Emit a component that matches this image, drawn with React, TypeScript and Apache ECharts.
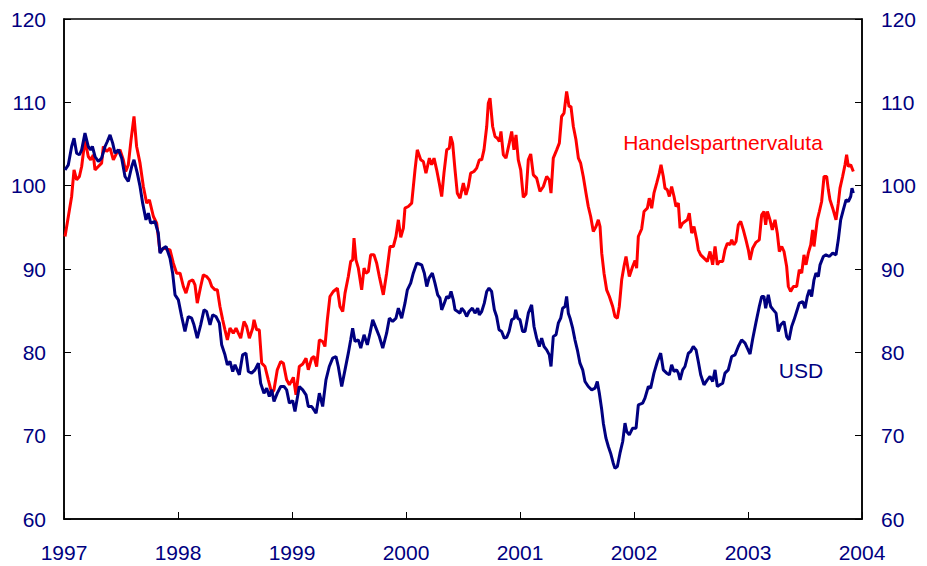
import React, { useEffect, useRef } from "react";
import * as echarts from "echarts";

// Y axis ticks (index, both sides)
const yTicks = [60, 70, 80, 90, 100, 110, 120];
// X axis year ticks
const yearTicks = [1997, 1998, 1999, 2000, 2001, 2002, 2003, 2004];

const seriesNames = ["Handelspartnervaluta", "USD"];

// USD index (decimal year / value)
const usdDates = [
  1997.009, 1997.038, 1997.067, 1997.088, 1997.111, 1997.135, 1997.155, 1997.184, 1997.213, 1997.234,
  1997.249, 1997.272, 1997.301, 1997.330, 1997.360, 1997.380, 1997.404, 1997.427, 1997.447, 1997.477,
  1997.506, 1997.535, 1997.564, 1997.594, 1997.614, 1997.643, 1997.667, 1997.690, 1997.719, 1997.740,
  1997.760, 1997.798, 1997.827, 1997.842, 1997.871, 1997.895, 1997.930, 1997.953, 1997.974, 1998.003,
  1998.032, 1998.061, 1998.090, 1998.120, 1998.140, 1998.169, 1998.199, 1998.228, 1998.251, 1998.281,
  1998.304, 1998.333, 1998.363, 1998.383, 1998.412, 1998.433, 1998.456, 1998.480, 1998.500, 1998.538,
  1998.567, 1998.596, 1998.617, 1998.646, 1998.675, 1998.705, 1998.725, 1998.754, 1998.778, 1998.801,
  1998.822, 1998.842, 1998.871, 1998.901, 1998.930, 1998.953, 1998.977, 1999.006, 1999.026, 1999.064,
  1999.094, 1999.123, 1999.143, 1999.173, 1999.211, 1999.240, 1999.269, 1999.298, 1999.327, 1999.357,
  1999.386, 1999.406, 1999.436, 1999.465, 1999.494, 1999.515, 1999.532, 1999.553, 1999.582, 1999.603,
  1999.632, 1999.661, 1999.684, 1999.708, 1999.737, 1999.766, 1999.796, 1999.830, 1999.854, 1999.883,
  1999.912, 1999.933, 1999.962, 1999.991, 2000.012, 2000.041, 2000.064, 2000.094, 2000.117, 2000.137,
  2000.161, 2000.182, 2000.202, 2000.231, 2000.254, 2000.278, 2000.298, 2000.313, 2000.336, 2000.357,
  2000.377, 2000.395, 2000.415, 2000.430, 2000.453, 2000.474, 2000.488, 2000.512, 2000.532, 2000.553,
  2000.582, 2000.605, 2000.629, 2000.643, 2000.664, 2000.687, 2000.708, 2000.728, 2000.751, 2000.775,
  2000.795, 2000.816, 2000.839, 2000.862, 2000.883, 2000.904, 2000.927, 2000.950, 2000.962, 2000.980,
  2001.000, 2001.023, 2001.044, 2001.073, 2001.102, 2001.123, 2001.146, 2001.169, 2001.190, 2001.211,
  2001.234, 2001.257, 2001.272, 2001.292, 2001.316, 2001.336, 2001.357, 2001.374, 2001.395, 2001.409,
  2001.424, 2001.439, 2001.462, 2001.482, 2001.503, 2001.526, 2001.550, 2001.570, 2001.599, 2001.629,
  2001.658, 2001.678, 2001.696, 2001.717, 2001.731, 2001.754, 2001.775, 2001.795, 2001.818, 2001.833,
  2001.854, 2001.877, 2001.901, 2001.921, 2001.936, 2001.959, 2001.988, 2002.018, 2002.038, 2002.076,
  2002.096, 2002.126, 2002.146, 2002.175, 2002.205, 2002.234, 2002.257, 2002.287, 2002.310, 2002.330,
  2002.351, 2002.374, 2002.389, 2002.404, 2002.427, 2002.447, 2002.477, 2002.497, 2002.520, 2002.544,
  2002.564, 2002.585, 2002.614, 2002.643, 2002.667, 2002.690, 2002.711, 2002.731, 2002.754, 2002.778,
  2002.798, 2002.827, 2002.857, 2002.886, 2002.915, 2002.944, 2002.974, 2002.994, 2003.018, 2003.041,
  2003.070, 2003.099, 2003.120, 2003.140, 2003.155, 2003.178, 2003.199, 2003.222, 2003.246, 2003.266,
  2003.287, 2003.316, 2003.339, 2003.360, 2003.383, 2003.404, 2003.427, 2003.450, 2003.480, 2003.500,
  2003.520, 2003.538, 2003.558, 2003.579, 2003.596, 2003.617, 2003.632, 2003.661, 2003.684, 2003.713,
  2003.743, 2003.772, 2003.792, 2003.813, 2003.836, 2003.860, 2003.880, 2003.901, 2003.912, 2003.924,
];
const usdValues = [
  101.9, 102.5, 104.7, 105.7, 103.9, 103.7, 104.3, 106.3, 104.7, 104.3,
  104.7, 103.5, 102.9, 103.3, 104.7, 105.3, 106.1, 105.1, 103.9, 104.3,
  103.3, 101.1, 100.5, 102.3, 103.1, 101.5, 99.9, 97.9, 95.9, 96.7,
  95.5, 95.7, 94.3, 91.9, 92.5, 92.7, 91.3, 89.5, 86.9, 86.3,
  84.3, 82.5, 84.3, 84.1, 83.3, 81.7, 83.3, 85.1, 84.9, 83.3,
  84.5, 84.3, 83.5, 80.9, 79.7, 78.5, 78.9, 77.7, 78.5, 77.3,
  79.7, 79.9, 77.7, 77.5, 77.9, 78.7, 76.3, 75.1, 75.7, 74.7,
  75.5, 74.1, 75.1, 75.9, 75.9, 75.5, 73.9, 74.2, 72.9, 75.9,
  75.5, 74.9, 73.5, 73.5, 72.7, 75.1, 73.5, 76.7, 78.3, 79.3,
  79.5, 78.3, 75.9, 77.9, 79.9, 81.5, 82.9, 81.3, 81.5, 80.5,
  82.1, 80.9, 82.3, 83.9, 82.9, 81.9, 80.5, 82.3, 84.1, 83.7,
  84.1, 85.3, 84.1, 85.9, 87.5, 88.3, 89.5, 90.7, 90.6, 90.5,
  89.5, 87.9, 88.9, 89.5, 88.3, 86.9, 86.5, 85.1, 85.9, 86.7,
  86.5, 87.3, 86.3, 85.1, 84.9, 84.7, 85.3, 84.9, 84.3, 84.9,
  85.3, 84.7, 85.3, 84.5, 84.9, 85.9, 87.3, 87.7, 87.3, 85.1,
  84.3, 82.7, 82.5, 81.7, 81.8, 82.5, 83.9, 84.1, 85.1, 84.1,
  83.9, 82.5, 82.5, 84.7, 85.7, 83.1, 81.7, 80.7, 81.7, 80.7,
  80.3, 79.7, 78.3, 81.9, 82.1, 83.5, 84.1, 85.3, 85.5, 86.7,
  84.7, 84.1, 82.9, 81.5, 80.3, 78.7, 77.9, 76.5, 75.9, 75.5,
  75.7, 76.5, 75.1, 73.1, 71.5, 69.7, 68.7, 67.9, 66.7, 66.1,
  66.3, 67.9, 69.3, 71.5, 70.5, 70.1, 70.9, 70.9, 73.7, 73.9,
  74.5, 75.9, 75.7, 77.5, 78.9, 79.9, 77.9, 77.5, 77.3, 78.5,
  77.7, 77.9, 77.5, 76.7, 77.9, 78.3, 79.9, 80.1, 80.7, 80.3,
  78.9, 77.3, 76.1, 76.7, 77.1, 76.5, 77.9, 75.9, 76.1, 76.3,
  77.5, 77.9, 79.5, 79.7, 80.7, 81.5, 81.1, 80.5, 79.8, 81.6,
  83.6, 85.5, 86.7, 86.7, 85.3, 86.9, 85.5, 85.1, 84.7, 82.5,
  83.3, 83.7, 81.9, 81.5, 83.1, 83.9, 84.9, 85.9, 86.1, 85.3,
  86.7, 87.5, 86.7, 88.7, 89.5, 89.1, 90.5, 91.5, 91.7, 91.5,
  91.9, 91.7, 93.5, 95.9, 97.1, 98.3, 98.1, 98.7, 99.7, 99.1,
];

// Trade-partner currency index (decimal year / value)
const tradeDates = [
  1997.009, 1997.038, 1997.067, 1997.088, 1997.111, 1997.135, 1997.155, 1997.184, 1997.213, 1997.234,
  1997.257, 1997.272, 1997.301, 1997.330, 1997.345, 1997.374, 1997.404, 1997.433, 1997.462, 1997.491,
  1997.520, 1997.541, 1997.564, 1997.588, 1997.614, 1997.637, 1997.667, 1997.696, 1997.725, 1997.749,
  1997.784, 1997.813, 1997.842, 1997.871, 1997.900, 1997.930, 1997.959, 1997.988, 1998.018, 1998.047,
  1998.070, 1998.099, 1998.129, 1998.149, 1998.169, 1998.199, 1998.222, 1998.251, 1998.275, 1998.296,
  1998.325, 1998.345, 1998.368, 1998.392, 1998.412, 1998.433, 1998.456, 1998.485, 1998.509, 1998.529,
  1998.550, 1998.579, 1998.602, 1998.626, 1998.655, 1998.667, 1998.690, 1998.713, 1998.734, 1998.763,
  1998.792, 1998.822, 1998.842, 1998.871, 1998.901, 1998.924, 1998.953, 1998.977, 1999.012, 1999.035,
  1999.064, 1999.094, 1999.123, 1999.143, 1999.173, 1999.193, 1999.216, 1999.240, 1999.269, 1999.289,
  1999.310, 1999.333, 1999.362, 1999.398, 1999.421, 1999.445, 1999.465, 1999.494, 1999.515, 1999.532,
  1999.544, 1999.561, 1999.582, 1999.611, 1999.632, 1999.649, 1999.670, 1999.690, 1999.719, 1999.743,
  1999.766, 1999.801, 1999.830, 1999.860, 1999.889, 1999.912, 1999.933, 1999.954, 1999.977, 1999.991,
  2000.020, 2000.050, 2000.079, 2000.099, 2000.129, 2000.152, 2000.175, 2000.205, 2000.225, 2000.246,
  2000.269, 2000.292, 2000.313, 2000.333, 2000.357, 2000.380, 2000.392, 2000.409, 2000.430, 2000.450,
  2000.474, 2000.503, 2000.526, 2000.547, 2000.567, 2000.596, 2000.620, 2000.643, 2000.664, 2000.684,
  2000.708, 2000.722, 2000.737, 2000.760, 2000.781, 2000.801, 2000.819, 2000.833, 2000.854, 2000.877,
  2000.906, 2000.927, 2000.947, 2000.965, 2000.985, 2001.006, 2001.029, 2001.053, 2001.073, 2001.094,
  2001.117, 2001.146, 2001.175, 2001.205, 2001.234, 2001.257, 2001.272, 2001.292, 2001.322, 2001.345,
  2001.365, 2001.386, 2001.409, 2001.430, 2001.447, 2001.468, 2001.491, 2001.512, 2001.532, 2001.555,
  2001.579, 2001.599, 2001.620, 2001.643, 2001.667, 2001.687, 2001.702, 2001.717, 2001.737, 2001.760,
  2001.784, 2001.813, 2001.833, 2001.854, 2001.871, 2001.892, 2001.912, 2001.930, 2001.959, 2001.988,
  2002.009, 2002.023, 2002.038, 2002.067, 2002.088, 2002.117, 2002.134, 2002.155, 2002.175, 2002.199,
  2002.222, 2002.237, 2002.257, 2002.272, 2002.292, 2002.310, 2002.330, 2002.351, 2002.368, 2002.389,
  2002.404, 2002.427, 2002.447, 2002.468, 2002.485, 2002.506, 2002.526, 2002.550, 2002.564, 2002.585,
  2002.614, 2002.643, 2002.667, 2002.690, 2002.711, 2002.731, 2002.749, 2002.778, 2002.798, 2002.819,
  2002.842, 2002.857, 2002.877, 2002.895, 2002.915, 2002.936, 2002.959, 2002.982, 2003.003, 2003.018,
  2003.041, 2003.070, 2003.099, 2003.120, 2003.140, 2003.155, 2003.170, 2003.193, 2003.213, 2003.237,
  2003.257, 2003.275, 2003.296, 2003.316, 2003.339, 2003.354, 2003.374, 2003.398, 2003.427, 2003.450,
  2003.471, 2003.491, 2003.509, 2003.529, 2003.550, 2003.567, 2003.579, 2003.608, 2003.626, 2003.646,
  2003.667, 2003.690, 2003.705, 2003.719, 2003.743, 2003.772, 2003.792, 2003.807, 2003.830, 2003.851,
  2003.865, 2003.880, 2003.901, 2003.924,
];
const tradeValues = [
  93.9, 96.3, 98.7, 101.9, 100.7, 101.1, 102.3, 105.5, 103.5, 103.1,
  103.7, 101.9, 102.3, 102.7, 104.7, 104.1, 104.5, 103.1, 103.9, 104.3,
  103.1, 101.7, 102.5, 105.5, 108.3, 104.7, 102.7, 99.9, 97.9, 98.3,
  96.3, 95.5, 92.1, 92.5, 92.4, 92.3, 90.7, 89.5, 89.5, 87.9,
  87.1, 88.5, 88.7, 88.1, 85.9, 87.9, 89.3, 89.1, 88.7, 87.9,
  87.5, 87.5, 85.5, 83.9, 82.7, 81.5, 82.9, 82.3, 82.9, 82.3,
  81.7, 83.7, 83.1, 81.7, 82.9, 83.9, 82.7, 82.7, 78.7, 78.3,
  76.7, 75.1, 75.5, 77.9, 78.9, 78.7, 76.7, 76.1, 77.0, 74.9,
  78.3, 78.6, 79.3, 77.9, 79.3, 79.5, 78.3, 81.5, 81.3, 80.7,
  83.9, 86.7, 87.3, 87.7, 85.5, 84.9, 87.1, 89.1, 90.9, 91.1,
  93.7, 91.1, 90.1, 87.5, 90.1, 89.5, 89.7, 91.7, 91.7, 90.7,
  89.1, 86.9, 89.5, 92.7, 92.7, 93.9, 95.9, 93.8, 94.9, 97.3,
  97.5, 97.9, 101.9, 104.3, 103.1, 102.9, 101.5, 103.3, 102.5, 103.3,
  101.9, 100.3, 98.7, 101.5, 104.3, 104.5, 105.9, 105.1, 101.9, 99.1,
  98.5, 100.3, 98.9, 99.9, 101.5, 101.7, 102.1, 103.1, 103.1, 104.3,
  107.1, 109.9, 110.5, 107.1, 105.9, 105.7, 105.3, 106.5, 103.7, 103.3,
  105.1, 106.5, 104.3, 106.1, 103.1, 101.9, 98.6, 99.0, 103.1, 103.8,
  101.3, 100.9, 99.3, 99.9, 101.1, 100.7, 99.1, 103.3, 104.3, 105.1,
  108.3, 108.7, 111.3, 109.5, 109.5, 107.1, 105.5, 103.3, 102.7, 101.1,
  99.1, 97.5, 96.3, 94.5, 95.1, 95.9, 95.1, 91.9, 89.5, 87.5,
  86.7, 85.5, 84.3, 84.1, 85.5, 88.7, 90.3, 91.5, 89.1, 90.3,
  91.0, 90.1, 93.9, 94.8, 96.9, 97.3, 98.5, 97.3, 99.1, 100.3,
  101.5, 102.5, 101.1, 99.7, 99.5, 98.7, 99.9, 98.7, 97.5, 97.9,
  94.9, 95.5, 95.7, 95.9, 96.7, 94.3, 95.1, 93.5, 92.3, 91.7,
  91.3, 90.9, 92.1, 90.5, 92.7, 90.5, 90.9, 90.9, 92.3, 93.1,
  92.9, 93.5, 92.9, 93.3, 95.3, 95.7, 94.7, 93.5, 92.3, 91.1,
  92.5, 93.2, 93.5, 96.5, 96.9, 95.3, 96.9, 95.9, 94.7, 95.9,
  94.3, 92.1, 92.7, 92.1, 90.3, 87.9, 87.3, 87.9, 87.9, 89.9,
  89.5, 91.7, 90.5, 91.9, 92.9, 94.7, 92.7, 95.9, 96.9, 98.1,
  101.1, 101.1, 99.5, 98.3, 97.3, 95.9, 97.9, 99.7, 101.1, 102.5,
  103.7, 102.3, 102.5, 101.7,
];

const NAVY = "#000080";
const RED = "#ff0000";
const FONT = "'Liberation Sans', Arial, Helvetica, sans-serif";

export default function App() {
  const ref = useRef<HTMLDivElement>(null);

  useEffect(() => {
    if (!ref.current) return;
    const chart = echarts.init(ref.current, null, { renderer: "svg" });

    const axisLabel = { color: NAVY, fontSize: 21, fontFamily: FONT };
    const yAxisCommon = {
      type: "value" as const,
      min: yTicks[0],
      max: yTicks[yTicks.length - 1],
      interval: 10,
      splitLine: { show: false },
      axisLine: { show: true, lineStyle: { color: "#000", width: 1.5 } },
      axisTick: { show: true, inside: true, length: 7, lineStyle: { color: "#000", width: 1 } },
    };

    chart.setOption({
      animation: false,
      backgroundColor: "#fff",
      grid: {
        left: 64,
        top: 19,
        right: 65,
        bottom: 47,
        show: true,
        borderColor: "#000",
        borderWidth: 1.5,
        backgroundColor: "transparent",
      },
      xAxis: {
        type: "value",
        min: yearTicks[0],
        max: yearTicks[yearTicks.length - 1],
        interval: 1,
        splitLine: { show: false },
        axisLine: { show: true, onZero: false, lineStyle: { color: "#000", width: 1.5 } },
        axisTick: { show: true, inside: true, length: 7, lineStyle: { color: "#000", width: 1 } },
        axisLabel: { ...axisLabel, margin: 23, formatter: (v: number) => String(v) },
      },
      yAxis: [
        { ...yAxisCommon, position: "left", axisLabel: { ...axisLabel, margin: 18 } },
        { ...yAxisCommon, position: "right", axisLabel: { ...axisLabel, margin: 19 } },
      ],
      series: [
        {
          name: seriesNames[0],
          type: "line",
          data: tradeDates.map((d, i) => [d, tradeValues[i]]),
          showSymbol: false,
          symbol: "none",
          lineStyle: { color: RED, width: 3 },
          z: 2,
        },
        {
          name: seriesNames[1],
          type: "line",
          data: usdDates.map((d, i) => [d, usdValues[i]]),
          showSymbol: false,
          symbol: "none",
          lineStyle: { color: NAVY, width: 3 },
          z: 3,
        },
      ],
      graphic: [
        {
          type: "text",
          x: 723,
          y: 142,
          style: {
            text: seriesNames[0],
            fill: RED,
            fontSize: 21,
            fontFamily: FONT,
            textAlign: "center",
            textVerticalAlign: "middle",
          },
        },
        {
          type: "text",
          x: 801,
          y: 370,
          style: {
            text: seriesNames[1],
            fill: NAVY,
            fontSize: 21,
            fontFamily: FONT,
            textAlign: "center",
            textVerticalAlign: "middle",
          },
        },
      ],
    });

    return () => chart.dispose();
  }, []);

  return <div ref={ref} style={{ width: 927, height: 566, position: "absolute", left: 0, top: 0 }} />;
}
